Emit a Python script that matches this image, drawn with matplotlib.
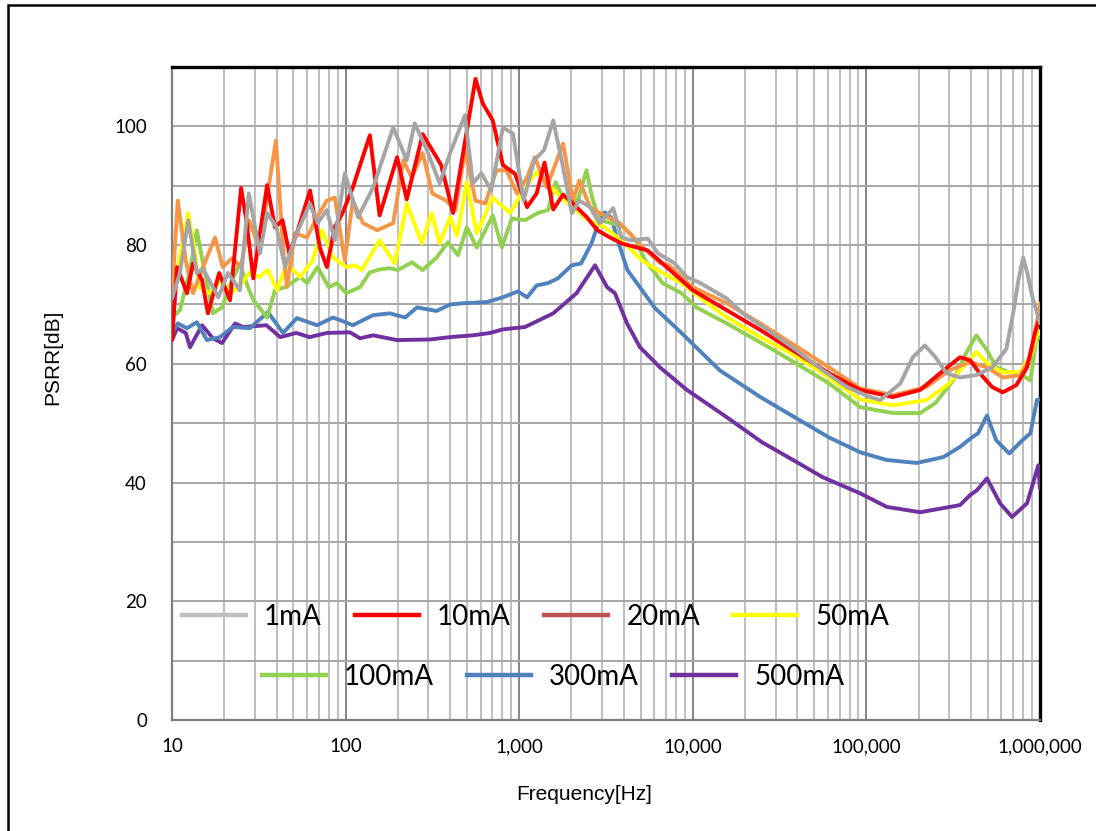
import matplotlib
matplotlib.use('Agg')
import matplotlib.pyplot as plt
from matplotlib.lines import Line2D
from matplotlib.patches import Rectangle
from matplotlib.ticker import FixedLocator, LogLocator, NullFormatter

plt.rcParams['font.family'] = ['Liberation Sans', 'DejaVu Sans']

# Dados (frequencia em Hz, PSRR em dB)
freq_1mA = [10, 11.1, 12.4, 13.9, 15.1, 18.5, 21, 24.6, 27.7, 32.1, 35.3, 40, 44.8, 52.4,
            62.3, 69, 78, 86.6, 99, 118, 144, 188, 225, 250, 294, 348, 400, 487, 541,
            605, 690, 805, 920, 1060, 1220, 1390, 1570, 1790, 2010, 2220, 2560, 2900,
            3480, 3880, 4400, 5500, 6300, 7800, 9250, 10900, 15700, 19400, 28600, 39400,
            56000, 77000, 105000, 120000, 157000, 185000, 217000, 250000, 290000, 346000,
            430000, 530000, 640000, 700000, 750000, 800000, 850000, 900000, 1000000]
psrr_1mA = [71.0, 75.3, 84.2, 75.3, 76.0, 71.2, 75.3, 72.4, 88.7, 78.6, 85.4, 83.0, 76.3, 82.0,
            87.0, 83.7, 85.9, 80.8, 92.1, 84.7, 89.7, 99.8, 94.3, 100.5, 96.0, 90.4, 95.5,
            101.9, 90.4, 92.1, 89.2, 99.8, 98.8, 87.5, 94.3, 96.0, 101.0, 93.1, 85.4, 87.5,
            86.4, 83.7, 86.2, 81.3, 80.8, 81.1, 78.6, 77.0, 74.6, 73.7, 71.0, 68.5, 65.2, 62.3,
            58.9, 56.1, 54.4, 53.9, 56.7, 61.1, 63.1, 61.1, 58.4, 57.7,
            58.1, 59.4, 62.5, 68.5, 74.0, 77.9, 75.0, 71.5, 66.8]

freq_10mA = [10, 10.7, 12.2, 13.2, 14.9, 16.1, 18.7, 21.6, 25.0, 26.8, 29.4, 35.3, 39.2, 43.3,
             47.4, 52.4, 62.4, 71, 78, 86.6, 96, 110, 138, 157, 198, 225, 278, 355, 416,
             560, 616, 704, 805, 947, 1110, 1260, 1400, 1570, 1790, 2040, 2450, 2820, 3330,
             3880, 5500, 10000, 24500, 61000, 92000, 142000, 204000, 278000, 346000,
             396000, 450000, 530000, 610000, 730000, 842000, 935000, 1000000]
psrr_10mA = [64.0, 76.3, 71.9, 76.9, 74.1, 68.5, 75.3, 70.7, 89.6, 84.2, 74.4, 90.1, 83.0, 84.2,
             78.6, 82.0, 89.2, 79.6, 76.3, 83.0, 85.4, 89.7, 98.5, 85.0, 94.8, 87.7, 98.7,
             93.5, 85.4, 108.0, 103.9, 101.0, 93.5, 92.0, 86.4, 88.7, 93.9, 86.0, 88.5, 87.0,
             84.7, 82.5, 81.3, 80.3, 79.1, 72.4, 65.7, 58.4, 55.6, 54.4, 55.6, 58.9, 61.1,
             60.6, 58.4, 56.1, 55.2, 56.4, 59.4, 65.2, 68.0]

freq_20mA = [10, 10.8, 12, 13.2, 15.1, 17.7, 19.6, 22.2, 25.0, 27.7, 31.8, 39.7, 43.6, 46, 51,
             60, 68.4, 78, 86.6, 99, 110, 126, 152, 188, 215, 240, 278, 316, 380, 430, 487,
             560, 637, 740, 845, 970, 1110, 1230, 1440, 1790, 2040, 2220, 2560, 2900, 3800,
             5000, 6470, 7300, 10000, 15700, 24500, 61000, 92000, 142000, 222000, 300000,
             396000, 495000, 610000, 770000, 880000, 970000, 1000000]
psrr_20mA = [71.9, 87.5, 77.4, 71.9, 76.3, 81.3, 76.3, 77.8, 76.3, 84.2, 79.6, 97.6, 79.6, 72.9,
             82.0, 81.3, 84.7, 87.5, 88.0, 77.4, 87.5, 83.7, 82.5, 83.7, 94.3, 91.4, 95.5,
             88.7, 87.5, 85.9, 96.0, 87.5, 87.0, 92.6, 92.6, 88.7, 91.4, 94.8, 89.7, 97.1,
             87.5, 90.9, 86.4, 85.4, 83.7, 80.0, 77.0, 76.6, 72.9, 70.2, 66.8, 59.4, 55.9,
             54.7, 56.1, 58.9, 60.3, 59.4, 57.7, 58.1, 61.1, 67.8, 70.2]

freq_50mA = [10, 10.8, 12.4, 13.6, 14.3, 16.5, 19.3, 22.0, 25.3, 28.1, 31.8, 35.7, 40.3, 46,
             54.7, 64.6, 73.1, 84.6, 101, 113, 124, 157, 192, 225, 275, 313, 348, 400, 438,
             499, 570, 704, 886, 1040, 1260, 1540, 1910, 2500, 3110, 3880, 5100, 6700, 8600,
             15000, 23500, 36500, 56000, 92000, 142000, 222000, 300000, 375000, 430000,
             510000, 610000, 770000, 900000, 970000, 1000000]
psrr_50mA = [74.1, 76.3, 85.4, 78.6, 72.9, 71.9, 74.1, 71.9, 73.6, 75.4, 74.6, 75.8, 72.4, 76.9,
             74.6, 77.4, 82.5, 77.9, 76.3, 76.6, 75.8, 80.8, 76.9, 87.0, 80.3, 85.4, 80.3,
             84.7, 81.6, 90.6, 82.0, 88.0, 85.4, 88.9, 92.3, 89.6, 87.0, 84.2, 83.0, 80.8,
             77.4, 75.3, 73.6, 68.2, 64.8, 61.8, 58.4, 54.0, 53.0, 53.9, 56.7, 60.1, 62.0,
             59.8, 58.6, 58.6, 61.8, 65.7, 65.0]

freq_100mA = [10, 11.1, 12.7, 13.9, 15.1, 17.2, 19.4, 22.2, 24.6, 27.4, 29.5, 35.3, 39.2, 44.8,
              54.7, 60, 69, 80, 89, 101, 121, 138, 157, 180, 200, 241, 278, 334, 389, 444,
              499, 570, 704, 795, 907, 1080, 1280, 1466, 1620, 1790, 2010, 2200, 2440, 2630,
              2900, 3400, 4000, 4350, 4700, 5300, 6700, 8600, 10500, 15700, 29300, 61000,
              92000, 142000, 204000, 250000, 316000, 375000, 430000, 495000, 560000, 665000,
              790000, 880000, 950000, 1000000]
psrr_100mA = [67.8, 69.0, 75.8, 82.5, 76.9, 68.5, 69.5, 74.1, 76.9, 72.9, 70.7, 67.8, 72.4, 72.9,
              74.6, 73.6, 76.3, 72.9, 73.6, 71.9, 72.9, 75.4, 75.9, 76.1, 75.8, 77.1, 75.8,
              77.9, 80.5, 78.3, 83.0, 79.6, 85.0, 79.6, 84.5, 84.2, 85.4, 85.9, 90.6, 88.0,
              86.4, 88.0, 92.6, 88.0, 84.2, 83.7, 83.0, 82.0, 80.8, 77.5, 73.6, 71.9, 69.5,
              66.8, 62.3, 56.7, 52.7, 51.7, 51.7, 53.4, 57.2, 61.8, 64.8, 62.3, 59.4, 58.6,
              58.1, 57.2, 64.0, 64.5]

freq_300mA = [10, 10.8, 12.2, 13.9, 15.9, 18.9, 22.4, 28.1, 35.7, 43.6, 52.4, 68.4, 84.6, 100,
              110, 144, 180, 220, 258, 334, 400, 473, 650, 805, 983, 1110, 1260, 1466, 1670,
              2010, 2270, 2610, 2900, 3110, 3400, 3690, 4200, 5100, 6050, 8600, 14300, 24500,
              60900, 92000, 131000, 195000, 278000, 346000, 405000, 440000, 495000, 560000,
              665000, 790000, 880000, 960000, 1000000]
psrr_300mA = [65.2, 66.8, 66.0, 67.0, 64.0, 64.5, 66.2, 66.0, 68.7, 65.2, 67.7, 66.5, 67.8, 67.0,
              66.5, 68.2, 68.5, 67.8, 69.5, 68.9, 70.0, 70.2, 70.4, 71.2, 72.2, 71.2, 73.2,
              73.6, 74.4, 76.6, 76.9, 80.3, 84.2, 85.5, 84.6, 80.8, 75.8, 72.4, 69.4, 65.2,
              58.9, 54.4, 47.6, 45.1, 43.8, 43.3, 44.3, 46.0, 47.6, 48.3, 51.3, 47.1,
              44.9, 47.1, 48.3, 53.9, 54.0]

freq_500mA = [10, 10.7, 12, 12.7, 14.9, 17.2, 19.4, 23.1, 25.7, 35, 42, 52, 62, 78, 106, 121,
              144, 198, 306, 400, 541, 680, 805, 1080, 1570, 2140, 2735, 3210, 3560, 4180,
              4960, 6470, 9250, 15700, 25000, 37800, 56000, 91800, 131000, 204000, 278000,
              346000, 396000, 433000, 495000, 589000, 690000, 842000, 912000, 977000, 1000000]
psrr_500mA = [64.0, 66.0, 65.2, 62.8, 66.5, 64.3, 63.5, 66.8, 66.2, 66.5, 64.5, 65.2, 64.5, 65.2,
              65.3, 64.3, 64.8, 64.0, 64.1, 64.5, 64.8, 65.2, 65.8, 66.2, 68.5, 71.9, 76.6,
              72.9, 71.9, 66.8, 62.8, 59.4, 55.6, 51.0, 46.8, 43.8, 40.9, 38.2, 35.9, 35.0,
              35.7, 36.2, 37.9, 38.7, 40.7, 36.5, 34.2, 36.5, 39.9, 42.9, 39.0]

series = [
    ('1mA', freq_1mA, psrr_1mA, '#A5A5A5', '#BFBFBF'),
    ('10mA', freq_10mA, psrr_10mA, '#FF0000', '#FF0000'),
    ('20mA', freq_20mA, psrr_20mA, '#F79646', '#C0504D'),
    ('50mA', freq_50mA, psrr_50mA, '#FFFF00', '#FFFF00'),
    ('100mA', freq_100mA, psrr_100mA, '#92D050', '#92D050'),
    ('300mA', freq_300mA, psrr_300mA, '#4F81BD', '#4F81BD'),
    ('500mA', freq_500mA, psrr_500mA, '#7030A0', '#7030A0'),
]

x_ticks = [10, 100, 1000, 10000, 100000, 1000000]
x_tick_labels = ['10', '100', '1,000', '10,000', '100,000', '1,000,000']
y_ticks = [0, 20, 40, 60, 80, 100]

fig = plt.figure(figsize=(10.96, 8.31), dpi=100, facecolor='white')
ax = fig.add_axes([172 / 1096, 111 / 831, 868 / 1096, 653 / 831])

# desenha do ultimo para o primeiro, 1mA fica por cima
for nome, f, v, cor, _ in reversed(series):
    ax.plot(f, v, color=cor, lw=2.8, solid_joinstyle='round', solid_capstyle='round', zorder=3)

ax.set_xscale('log')
ax.set_xlim(10, 1e6)
ax.set_ylim(0, 110)

ax.xaxis.set_major_locator(FixedLocator(x_ticks))
ax.set_xticklabels(x_tick_labels)
ax.xaxis.set_minor_locator(LogLocator(base=10, subs=range(2, 10)))
ax.xaxis.set_minor_formatter(NullFormatter())
ax.yaxis.set_major_locator(FixedLocator(y_ticks))
ax.yaxis.set_minor_locator(FixedLocator(range(10, 110, 20)))

ax.grid(which='major', axis='x', color='#868686', lw=1.4, zorder=0)
ax.grid(which='minor', axis='x', color='#BFBFBF', lw=1.4, zorder=0)
ax.grid(which='both', axis='y', color='#A6A6A6', lw=1.4, zorder=0)
ax.set_axisbelow(True)

ax.tick_params(which='both', length=0)
ax.tick_params(axis='y', pad=18)
ax.tick_params(axis='x', pad=13)
for lbl in ax.get_xticklabels() + ax.get_yticklabels():
    lbl.set_family(['Lato', 'DejaVu Sans'])
    lbl.set_fontsize(13.5)

for lado in ['left', 'bottom']:
    ax.spines[lado].set_color('#7F7F7F')
    ax.spines[lado].set_linewidth(1.6)
for lado in ['top', 'right']:
    ax.spines[lado].set_color('black')
    ax.spines[lado].set_linewidth(2.4)

ax.set_xlabel('Frequency[Hz]', fontsize=15)
ax.set_ylabel('PSRR[dB]', fontsize=15)
ax.xaxis.set_label_coords(0.4747, -0.100)
ax.yaxis.set_label_coords(-0.1267, 0.555)

handles = [Line2D([0], [0], color=s[4], lw=3.2) for s in series]
nomes = [s[0] for s in series]
leg_opts = dict(frameon=False, borderpad=0, handlelength=2.3,
                handletextpad=0.65, columnspacing=1.2, loc='center',
                prop={'family': ['Lato', 'DejaVu Sans'], 'size': 20})
leg1 = ax.legend(handles[:4], nomes[:4], ncol=4, bbox_to_anchor=(0.419, 0.158), **leg_opts)
ax.add_artist(leg1)
ax.legend(handles[4:], nomes[4:], ncol=3, bbox_to_anchor=(0.439, 0.066), **leg_opts)

# moldura externa
fig.patches.append(Rectangle((8 / 1096, -0.02), 1.1, 1.02 - 5 / 831, transform=fig.transFigure,
                             fill=False, ec='black', lw=1.8, figure=fig))

fig.savefig('out.png', dpi=100, facecolor='white')
